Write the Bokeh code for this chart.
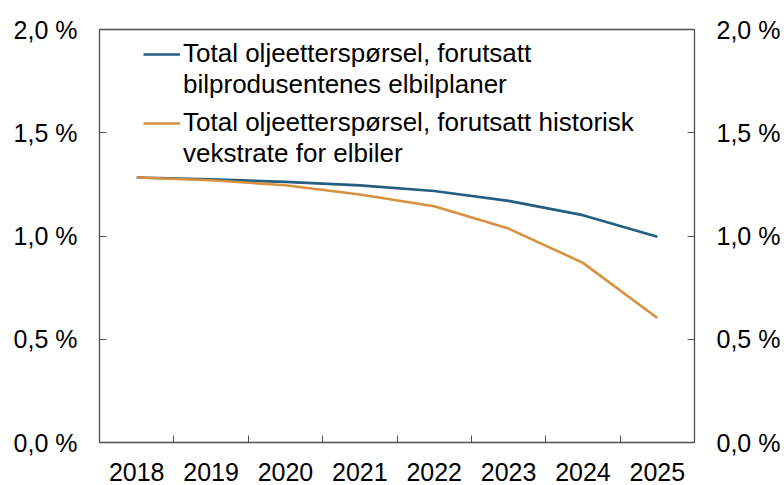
from bokeh.plotting import figure
from bokeh.models import Range1d, LinearAxis, FixedTicker, Legend, LegendItem, ColumnDataSource
from bokeh.embed import file_html
from bokeh.resources import INLINE

# ---- data ----
years = ["2018", "2019", "2020", "2021", "2022", "2023", "2024", "2025"]
demand_carmaker_plans = [1.283, 1.274, 1.262, 1.245, 1.218, 1.170, 1.101, 0.996]
demand_historic_growth = [1.283, 1.270, 1.246, 1.201, 1.144, 1.036, 0.870, 0.603]
series1_label = ["Total oljeetterspørsel, forutsatt", "bilprodusentenes elbilplaner"]
series2_label = ["Total oljeetterspørsel, forutsatt historisk", "vekstrate for elbiler"]
y_ticks = [0, 0.5, 1, 1.5, 2]
y_tick_labels = ["0,0 %", "0,5 %", "1,0 %", "1,5 %", "2,0 %"]

# ---- layout / style ----
FONT = "Liberation Sans"
AXIS_COLOR = "#505050"
BLUE = "#245E82"
ORANGE = "#D8913F"

x_centers = [i + 0.5 for i in range(len(years))]
x_bounds = [i for i in range(1, len(years))]

src = ColumnDataSource(dict(x=x_centers, a=demand_carmaker_plans, b=demand_historic_growth))

p = figure(width=784, height=485, output_backend="svg", toolbar_location=None,
           x_range=Range1d(0, len(years)), y_range=Range1d(0, 2),
           min_border_left=99, min_border_right=90, min_border_top=29, min_border_bottom=43,
           background_fill_color="white", border_fill_color="white")
p.xgrid.visible = False
p.ygrid.visible = False
p.outline_line_color = AXIS_COLOR
p.outline_line_width = 1.3

r1 = p.line("x", "a", source=src, line_color=BLUE, line_width=2.6)
r2 = p.line("x", "b", source=src, line_color=ORANGE, line_width=2.6)
# invisible helper renderer so that the second text line of each legend entry has no glyph
blank = p.line("x", "a", source=src, line_alpha=0)

# x axis: labels at category centres, ticks between categories (minor ticks)
xa = p.xaxis[0]
xa.ticker = FixedTicker(ticks=x_centers, minor_ticks=x_bounds)
xa.major_label_overrides = {c: y for c, y in zip(x_centers, years)}
xa.major_tick_in = 0
xa.major_tick_out = 0
xa.minor_tick_in = 7
xa.minor_tick_out = 0
xa.minor_tick_line_color = AXIS_COLOR
xa.axis_line_color = AXIS_COLOR
xa.major_label_text_font = FONT
xa.major_label_text_font_size = "25px"
xa.major_label_text_color = "black"
xa.major_label_standoff = 20

def style_y(ax):
    ax.ticker = FixedTicker(ticks=y_ticks, minor_ticks=[])
    ax.major_label_overrides = {t: l for t, l in zip(y_ticks, y_tick_labels)}
    ax.major_tick_in = 7
    ax.major_tick_out = 0
    ax.minor_tick_in = 0
    ax.minor_tick_out = 0
    ax.major_tick_line_color = AXIS_COLOR
    ax.axis_line_color = AXIS_COLOR
    ax.major_label_text_font = FONT
    ax.major_label_text_font_size = "25px"
    ax.major_label_text_color = "black"
    ax.major_label_standoff = 22

style_y(p.yaxis[0])
right_axis = LinearAxis()
style_y(right_axis)
p.add_layout(right_axis, "right")

def make_legend(lines, renderer, bottom):
    return Legend(items=[LegendItem(label=lines[0], renderers=[renderer]),
                         LegendItem(label=lines[1], renderers=[blank])],
                  location=(44, bottom), padding=0, margin=0, spacing=0,
                  glyph_width=37, glyph_height=20, label_standoff=3, label_height=20,
                  label_text_font=FONT, label_text_font_size="26px", label_text_color="black",
                  border_line_alpha=0, background_fill_alpha=0)

p.add_layout(make_legend(series1_label, r1, 342), "center")
p.add_layout(make_legend(series2_label, r2, 273), "center")

open("out.html", "w").write(file_html(p, INLINE))
